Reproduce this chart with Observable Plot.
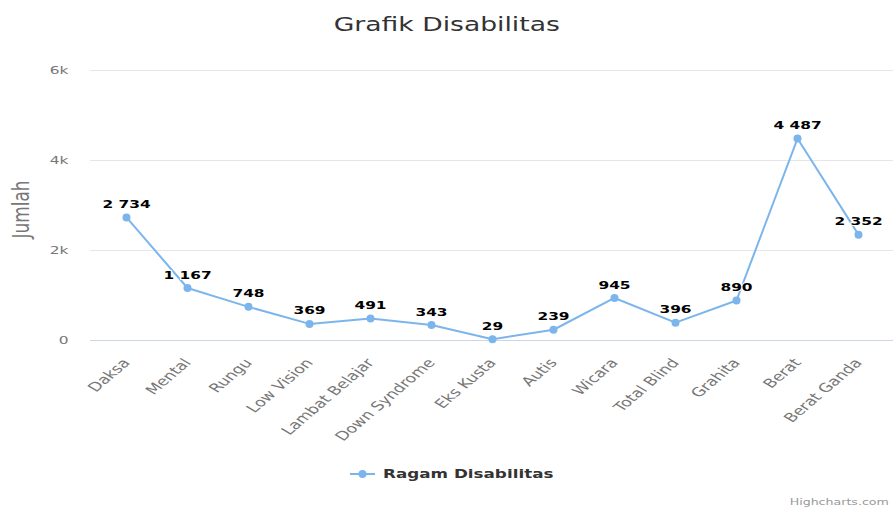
<!DOCTYPE html>
<html>
<head>
<meta charset="utf-8">
<script src="https://cdn.jsdelivr.net/npm/d3@7"></script>
<script src="https://cdn.jsdelivr.net/npm/@observablehq/plot@0.6"></script>
<style>
  html, body { margin: 0; padding: 0; background: #fff; }
  #wrap { position: relative; width: 893px; height: 511px; overflow: hidden; font-family: "DejaVu Sans", sans-serif; }
  #title { position: absolute; left: 0; top: 13px; width: 893px; text-align: center; line-height: 22px; }
  #title span { display: inline-block; font-size: 19px; color: #333; transform: scaleX(1.4); transform-origin: center; }
  #chart { position: absolute; left: 0; top: 45px; }
  #legend { position: absolute; left: 0; top: 460px; }
  #credits { position: absolute; right: 4px; top: 497px; font-size: 9px; color: #999; transform: scaleX(1.4); transform-origin: right; }
</style>
</head>
<body>
<div id="wrap">
  <div id="title"><span>Grafik Disabilitas</span></div>
  <div id="chart"></div>
  <svg id="legend" width="893" height="30"></svg>
  <div id="credits">Highcharts.com</div>
</div>
<script>
const titleText = "Grafik Disabilitas";
const seriesName = "Ragam Disabilitas";
const yAxisTitle = "Jumlah";
const categories = ["Daksa", "Mental", "Rungu", "Low Vision", "Lambat Belajar", "Down Syndrome", "Eks Kusta", "Autis", "Wicara", "Total Blind", "Grahita", "Berat", "Berat Ganda"];
const values = [2734, 1167, 748, 369, 491, 343, 29, 239, 945, 396, 890, 4487, 2352];
const yTicks = [0, 2000, 4000, 6000];
const yTickLabels = ["0", "2k", "4k", "6k"];

const color = "#7cb5ec";
const STRETCH = 1.4;
const data = categories.map((c, i) => ({category: c, value: values[i]}));
const fmt = v => d3.format(",")(v).replace(/,/g, " ");

const chart = Plot.plot({
  width: 893,
  height: 410,
  marginTop: 25,
  marginBottom: 115,
  marginLeft: 90,
  marginRight: 0,
  style: {fontFamily: "DejaVu Sans, sans-serif", background: "transparent", overflow: "visible"},
  x: {type: "point", domain: categories, padding: 0.5, label: null},
  y: {domain: [0, 6000], label: null},
  marks: [
    Plot.gridY({ticks: yTicks, stroke: "#e6e6e6", strokeOpacity: 1}),
    Plot.ruleY([0], {stroke: "#ccd6eb"}),
    Plot.axisY({ticks: yTicks, tickSize: 0, tickPadding: 22, tickFormat: d => yTickLabels[yTicks.indexOf(d)], color: "#777", fontSize: 11, label: null}),
    Plot.axisX({tickSize: 0, tickPadding: 20, tickRotate: -50, color: "#777", fontSize: 12.5, dx: 0, label: null}),
    Plot.line(data, {x: "category", y: "value", stroke: color, strokeWidth: 2}),
    Plot.dot(data, {x: "category", y: "value", r: 4, fill: color}),
    Plot.text(data, {x: "category", y: "value", text: d => fmt(d.value), dy: -13, fontSize: 11, fontWeight: "bold", fill: "#000", stroke: "#fff", strokeWidth: 2}),
    Plot.text([yAxisTitle], {frameAnchor: "left", dx: -69, dy: 4, rotate: -90, textAnchor: "middle", fontSize: 17, fill: "#777"})
  ]
});

// Horizontal stretch of each text, as in the reference picture
chart.querySelectorAll("text").forEach(el => {
  const t = el.getAttribute("transform");
  if (t && t.startsWith("translate(")) {
    const idx = t.indexOf(")") + 1;
    el.setAttribute("transform", t.slice(0, idx) + ` scale(${STRETCH},1)` + t.slice(idx));
  } else if (!t) {
    const x = +(el.getAttribute("x") || 0), y = +(el.getAttribute("y") || 0);
    el.removeAttribute("x"); el.removeAttribute("y");
    el.setAttribute("transform", `translate(${x},${y}) scale(${STRETCH},1)`);
  }
});
document.getElementById("chart").appendChild(chart);

// Legend
const legend = d3.select("#legend");
legend.append("line").attr("x1", 350).attr("x2", 375).attr("y1", 14).attr("y2", 14).attr("stroke", color).attr("stroke-width", 2);
legend.append("circle").attr("cx", 362.5).attr("cy", 14).attr("r", 4).attr("fill", color);
legend.append("text").attr("transform", `translate(383,18) scale(${STRETCH},1)`)
  .attr("font-family", "DejaVu Sans, sans-serif").attr("font-size", 12).attr("font-weight", "bold").attr("fill", "#333")
  .text(seriesName);
</script>
</body>
</html>
